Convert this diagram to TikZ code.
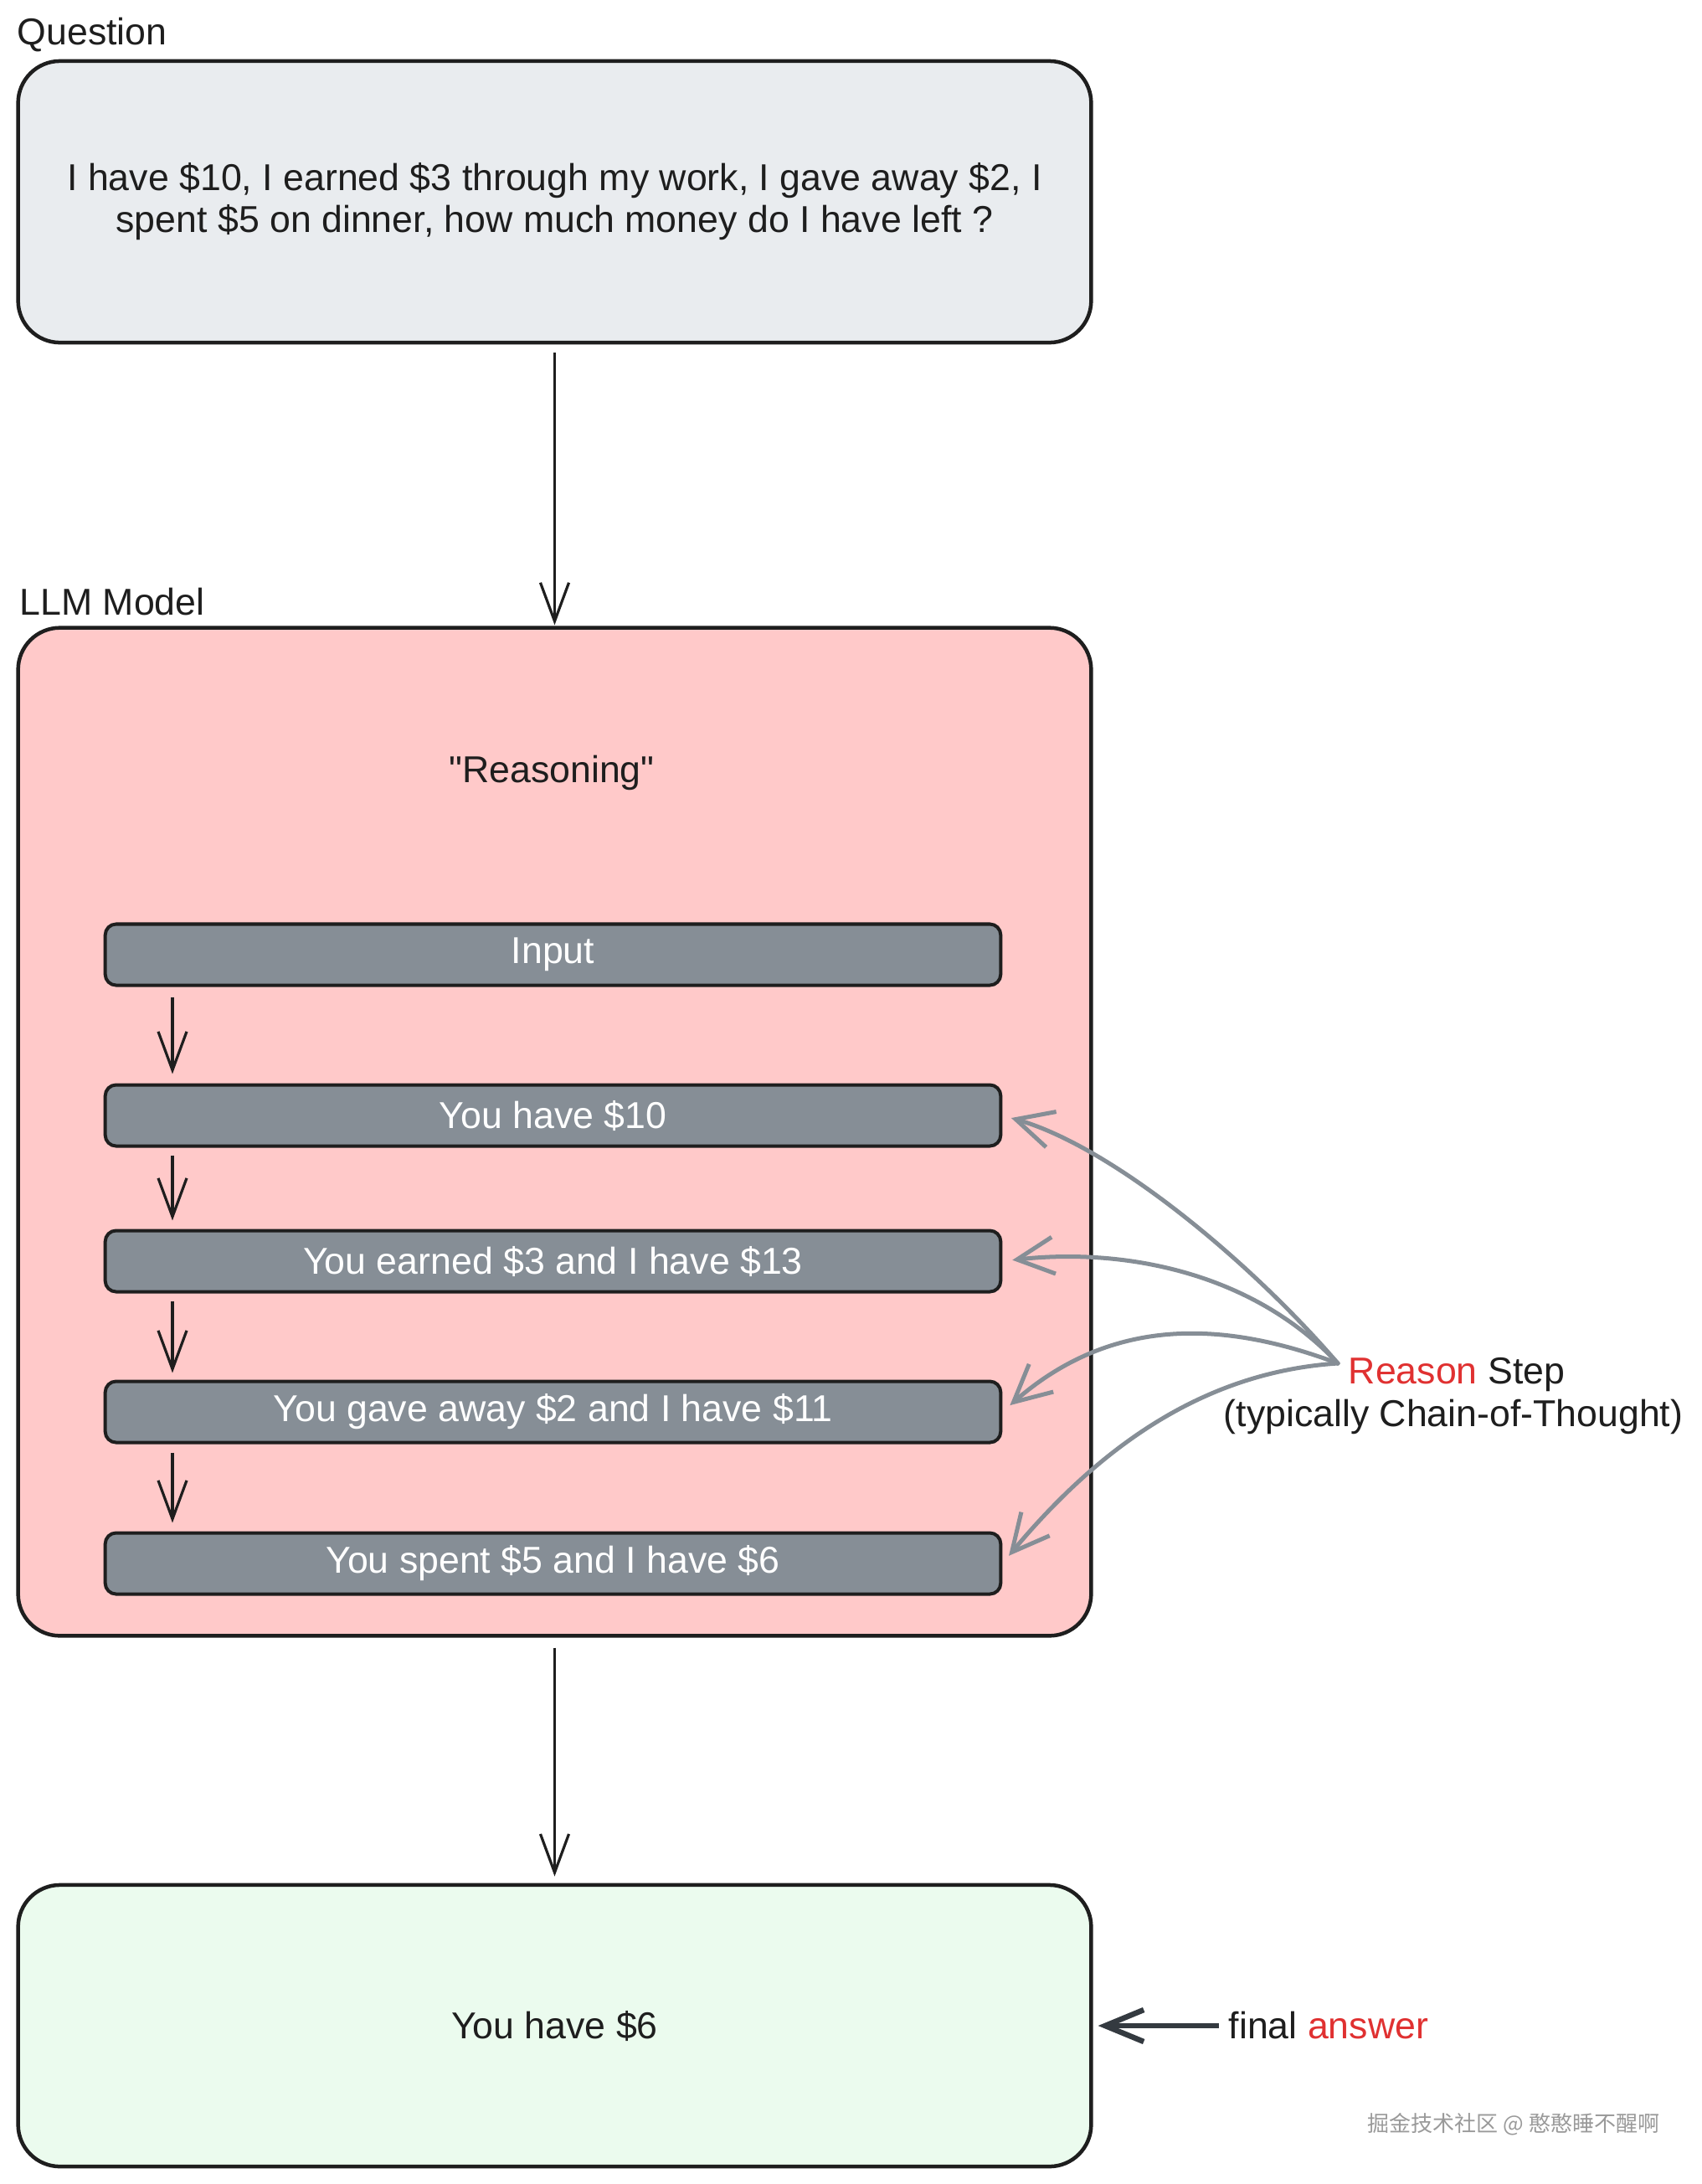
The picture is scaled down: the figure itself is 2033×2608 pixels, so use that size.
\documentclass[tikz,border=0pt]{standalone}
\usepackage{fontspec}
\setmainfont{Liberation Sans}
\newfontfamily\cjkfont{Noto Sans CJK SC}
\usetikzlibrary{arrows.meta,calc}
\definecolor{ink}{HTML}{1E1E1E}
\definecolor{qfill}{HTML}{E9ECEF}
\definecolor{llmfill}{HTML}{FFC9C9}
\definecolor{barfill}{HTML}{868E96}
\definecolor{ansfill}{HTML}{EBFBEE}
\definecolor{garrow}{HTML}{868E96}
\definecolor{redtxt}{HTML}{E03131}
\definecolor{darkarrow}{HTML}{343A40}
\definecolor{wmark}{HTML}{9A9A9A}
\newcommand\fs{\fontsize{12.7pt}{14.2pt}\selectfont}
\tikzset{
  box/.style={draw=ink, line width=0.045cm, rounded corners=0.5cm, minimum width=12.81cm, inner sep=0, font=\fs, text=ink, align=center},
  bar/.style={draw=ink, fill=barfill, line width=0.04cm, rounded corners=0.13cm, minimum width=10.69cm, minimum height=0.73cm, text=white, inner sep=0, font=\fs},
  lbl/.style={font=\fs, inner sep=0, text=ink},
  arr/.style={draw=ink, line width=0.032cm, -{Straight Barb[length=0.46cm,width=0.34cm]}},
  garr/.style={draw=garrow, line width=0.05cm, line cap=round, -{Straight Barb[length=0.44cm,width=0.44cm]}},
  farr/.style={draw=darkarrow, line width=0.065cm, -{Straight Barb[length=0.46cm,width=0.38cm]}}
}
\begin{document}
\begin{tikzpicture}[x=0.01cm,y=-0.01cm]
\fill[white] (0,0) rectangle (2033,2608);
\useasboundingbox (0,0) rectangle (2033,2608);

% labels
\node[lbl, anchor=west] (qlabel) at (20,42) {Question};
\node[lbl, anchor=west] (llmlabel) at (23,719) {LLM Model};

% question box
\node[box, fill=qfill, minimum height=3.36cm] (q) at (662.5,241)
  {I have \$10, I earned \$3 through my work, I gave away \$2, I\\spent \$5 on dinner, how much money do I have left ?};

% LLM box
\node[box, fill=llmfill, minimum height=12.03cm] (llm) at (662.5,1351.5) {};
\node[lbl] (reason) at (659,923) {\textquotedbl Reasoning\textquotedbl};

% bars
\node[bar] (in) at (660.5,1140) {Input};
\node[bar] (s1) at (660.5,1332) {You have \$10};
\node[bar] (s2) at (660.5,1506) {You earned \$3 and I have \$13};
\node[bar] (s3) at (660.5,1686) {You gave away \$2 and I have \$11};
\node[bar] (s4) at (660.5,1867) {You spent \$5 and I have \$6};

% answer box
\node[box, fill=ansfill, minimum height=3.36cm] (ans) at (662.5,2419) {You have \$6};

% main arrows
\draw[arr, shorten <=0.1cm, shorten >=0.01cm] (q.south) -- (llm.north);
\draw[arr, shorten <=0.12cm, shorten >=0.08cm] (llm.south) -- (ans.north);

% step arrows
\coordinate (col) at (206,0);
\draw[arr, shorten <=0.12cm, shorten >=0.11cm] (col |- in.south) -- (col |- s1.north);
\draw[arr, shorten <=0.09cm, shorten >=0.1cm] (col |- s1.south) -- (col |- s2.north);
\draw[arr, shorten <=0.09cm, shorten >=0.08cm] (col |- s2.south) -- (col |- s3.north);
\draw[arr, shorten <=0.1cm, shorten >=0.1cm] (col |- s3.south) -- (col |- s4.north);

% reason step label
\node[lbl] (rs1) at (1740,1642) {\textcolor{redtxt}{Reason} Step};
\node[lbl] (rs2) at (1736,1692) {(typically Chain-of-Thought)};
\coordinate (src) at (1598,1628);

\draw[garr, shorten >=0.11cm] (src) .. controls (1495,1508) and (1330,1370) .. (s1.east);
\draw[garr, shorten >=0.12cm] (src) .. controls (1495,1518) and (1340,1490) .. (s2.east);
\draw[garr, shorten >=0.12cm] (src) .. controls (1465,1578) and (1330,1570) .. (s3.east);
\draw[garr, shorten >=0.12cm] (src) .. controls (1445,1638) and (1320,1720) .. (s4.east);

% final answer
\node[lbl, anchor=west] (fa) at (1467,2419) {final \textcolor{redtxt}{answer}};
\draw[farr, shorten <=0.11cm, shorten >=0.06cm] (fa.west) -- (ans.east);

% watermark
\node[inner sep=0, text=wmark, font=\cjkfont\fontsize{7.4pt}{9pt}\selectfont] (wm) at (1808,2537) {掘金技术社区 @ 憨憨睡不醒啊};
\end{tikzpicture}
\end{document}
